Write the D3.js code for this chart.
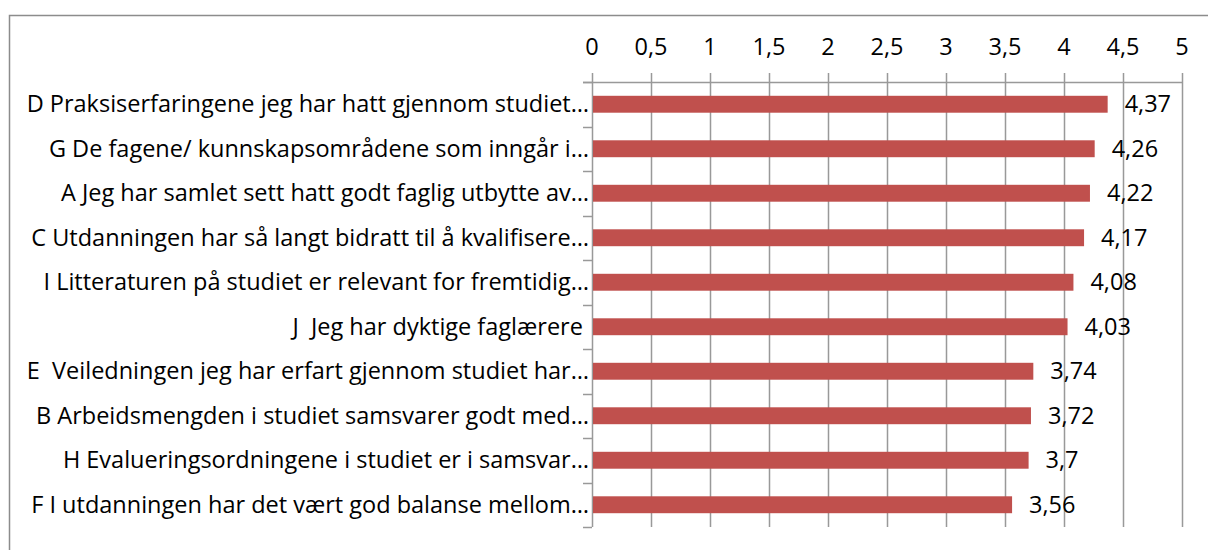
<!DOCTYPE html>
<html>
<head>
<meta charset="utf-8">
<script src="https://cdn.jsdelivr.net/npm/d3@7"></script>
<style>
    body { margin: 0; background: #fff; }
    svg text { white-space: pre; }
</style>
</head>
<body>
<svg id="chart" width="1208" height="550"></svg>
<script>
// categories top to bottom
const categories = [
    'D Praksiserfaringene jeg har hatt gjennom studiet…',
    'G De fagene/ kunnskapsområdene som inngår i…',
    'A Jeg har samlet sett hatt godt faglig utbytte av…',
    'C Utdanningen har så langt bidratt til å kvalifisere…',
    'I Litteraturen på studiet er relevant for fremtidig…',
    'J  Jeg har dyktige faglærere ',
    'E  Veiledningen jeg har erfart gjennom studiet har…',
    'B Arbeidsmengden i studiet samsvarer godt med…',
    'H Evalueringsordningene i studiet er i samsvar…',
    'F I utdanningen har det vært god balanse mellom…'
];
const values = [4.37, 4.26, 4.22, 4.17, 4.08, 4.03, 3.74, 3.72, 3.7, 3.56];
const xTicks = [0, 0.5, 1, 1.5, 2, 2.5, 3, 3.5, 4, 4.5, 5];

const nb = d3.formatLocale({decimal: ',', thousands: ' ', grouping: [3], currency: ['', '']});
const fmt = function (v) { return nb.format('~g')(v); };

const svg = d3.select('#chart');
const font = 'Open Sans, sans-serif';
const fontSize = 23.5;

// outer frame (only left and top edges are inside the window)
svg.append('rect')
    .attr('x', 9.5).attr('y', 15.5)
    .attr('width', 1300).attr('height', 700)
    .attr('fill', 'none')
    .attr('stroke', '#8c8c8c')
    .attr('stroke-width', 1.5);

const plotLeft = 592, plotRight = 1182, plotTop = 82, plotBottom = 527;

const x = d3.scaleLinear().domain([0, 5]).range([plotLeft, plotRight]);
const y = d3.scaleBand().domain(categories).range([plotTop, plotBottom]).paddingInner(0.62).paddingOuter(0.31);

const grid = '#999';

// vertical gridlines with small ticks above the axis
svg.append('g')
    .selectAll('line')
    .data(xTicks)
    .join('line')
    .attr('x1', d => Math.round(x(d)) + 0.5)
    .attr('x2', d => Math.round(x(d)) + 0.5)
    .attr('y1', plotTop - 9)
    .attr('y2', plotBottom)
    .attr('stroke', grid)
    .attr('stroke-width', 1.5);

// top axis line
svg.append('line')
    .attr('x1', plotLeft - 9).attr('x2', plotRight)
    .attr('y1', plotTop + 0.5).attr('y2', plotTop + 0.5)
    .attr('stroke', grid)
    .attr('stroke-width', 1.5);

// category tick marks on the left
const step = (plotBottom - plotTop) / categories.length;
svg.append('g')
    .selectAll('line')
    .data(d3.range(categories.length + 1))
    .join('line')
    .attr('x1', plotLeft - 9).attr('x2', plotLeft)
    .attr('y1', d => Math.round(plotTop + d * step) + 0.5)
    .attr('y2', d => Math.round(plotTop + d * step) + 0.5)
    .attr('stroke', grid)
    .attr('stroke-width', 1.5);

// tick labels
svg.append('g')
    .selectAll('text')
    .data(xTicks)
    .join('text')
    .attr('x', d => x(d))
    .attr('y', 47)
    .attr('dy', '0.35em')
    .attr('text-anchor', 'middle')
    .style('font-family', font)
    .style('font-size', fontSize + 'px')
    .text(fmt);

// bars
svg.append('g')
    .selectAll('rect')
    .data(values)
    .join('rect')
    .attr('x', x(0) + 1)
    .attr('y', (d, i) => y(categories[i]))
    .attr('width', d => x(d) - x(0) - 1)
    .attr('height', y.bandwidth())
    .attr('fill', '#c0504d');

// value labels
svg.append('g')
    .selectAll('text')
    .data(values)
    .join('text')
    .attr('x', d => x(d) + 17)
    .attr('y', (d, i) => y(categories[i]) + y.bandwidth() / 2)
    .attr('dy', '0.35em')
    .style('font-family', font)
    .style('font-size', fontSize + 'px')
    .text(fmt);

// category labels
svg.append('g')
    .selectAll('text')
    .data(categories)
    .join('text')
    .attr('x', plotLeft - 3)
    .attr('y', d => y(d) + y.bandwidth() / 2)
    .attr('dy', '0.35em')
    .attr('text-anchor', 'end')
    .style('font-family', font)
    .style('font-size', fontSize + 'px')
    .text(d => d);
</script>
</body>
</html>
